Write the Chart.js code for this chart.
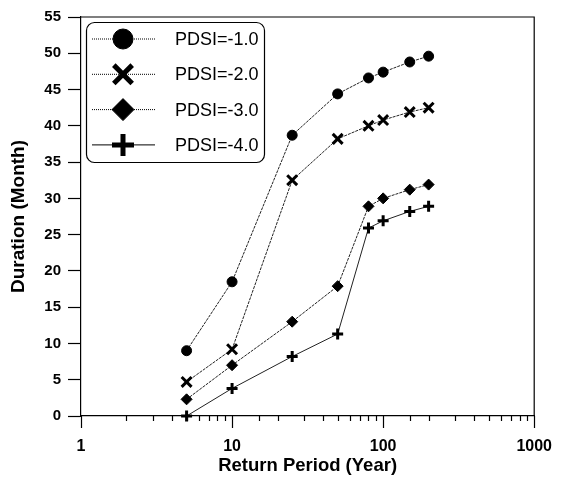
<!DOCTYPE html>
<html>
<head>
<meta charset="utf-8">
<title>Duration vs Return Period</title>
<script src="https://cdn.jsdelivr.net/npm/chart.js@4/dist/chart.umd.min.js"></script>
<style>
    html, body { margin: 0; padding: 0; background: #fff; }
    #wrap { width: 573px; height: 478px; position: relative; }
</style>
</head>
<body>
<div id="wrap"><canvas id="chart"></canvas></div>
<script>
// Data
const returnPeriods = [5, 10, 25, 50, 80, 100, 150, 200];
const pdsi1 = [9.0, 18.5, 38.7, 44.4, 46.6, 47.4, 48.8, 49.6];
const pdsi2 = [4.7, 9.2, 32.5, 38.2, 40.0, 40.8, 41.9, 42.5];
const pdsi3 = [2.3, 7.0, 13.0, 17.9, 28.9, 30.0, 31.2, 31.9];
const pdsi4 = [0.0, 3.8, 8.2, 11.3, 25.9, 26.9, 28.2, 28.9];
const seriesLabels = ['PDSI=-1.0', 'PDSI=-2.0', 'PDSI=-3.0', 'PDSI=-4.0'];
const yTicks = [0, 5, 10, 15, 20, 25, 30, 35, 40, 45, 50, 55];

const FONT = '"Liberation Sans", Arial, sans-serif';

function toPoints(values) {
    return returnPeriods.map((x, i) => ({ x: x, y: values[i] }));
}

// Marker look per series (plot size, legend size)
const markers = [
    { style: 'circle',   r: 5,   lr: 10, lw: 1, llw: 1, dash: [3, 1] },
    { style: 'crossRot', r: 7,   lr: 13, lw: 3, llw: 5, dash: [3, 1] },
    { style: 'rectRot',  r: 5.5, lr: 11, lw: 1, llw: 1, dash: [3, 1] },
    { style: 'cross',    r: 5.5, lr: 11, lw: 3, llw: 5, dash: [] }
];

const datasets = [pdsi1, pdsi2, pdsi3, pdsi4].map((vals, i) => ({
    label: seriesLabels[i],
    data: toPoints(vals),
    borderColor: '#222',
    borderWidth: 1,
    borderDash: markers[i].dash,
    backgroundColor: '#000',
    pointStyle: markers[i].style,
    pointRadius: markers[i].r,
    pointBorderWidth: markers[i].lw,
    pointBorderColor: '#000',
    pointBackgroundColor: '#000',
    tension: 0,
    clip: false
}));

// Frame and x tick marks
const framePlugin = {
    id: 'frame',
    afterDraw(chart) {
        const { ctx, chartArea: { left, right, top, bottom } } = chart;
        ctx.save();
        ctx.strokeStyle = '#000';
        ctx.lineWidth = 1.2;
        ctx.beginPath();
        ctx.moveTo(left, top);
        ctx.lineTo(right, top);
        ctx.lineTo(right, bottom);
        ctx.stroke();

        const xs = chart.scales.x;
        xs.ticks.forEach(t => {
            const px = Math.round(xs.getPixelForValue(t.value)) + 0.5;
            const lg = Math.log10(t.value);
            const major = Math.abs(lg - Math.round(lg)) < 1e-9;
            ctx.beginPath();
            ctx.moveTo(px, bottom);
            ctx.lineTo(px, bottom + (major ? 12 : 5));
            ctx.stroke();
        });
        ctx.restore();
    }
};

// Legend box with line + marker samples
const legendPlugin = {
    id: 'boxLegend',
    afterDraw(chart) {
        const ctx = chart.ctx;
        ctx.save();
        ctx.strokeStyle = '#000';
        ctx.lineWidth = 1.2;
        ctx.fillStyle = '#fff';
        ctx.beginPath();
        ctx.roundRect(86.5, 22.5, 178, 140, 8);
        ctx.fill();
        ctx.stroke();

        chart.data.datasets.forEach((ds, i) => {
            const y = 39 + i * 35.3;
            const m = markers[i];
            ctx.strokeStyle = '#000';
            ctx.lineWidth = 1;
            ctx.setLineDash(m.dash.length ? [1, 1] : []);
            ctx.beginPath();
            ctx.moveTo(92, y);
            ctx.lineTo(155, y);
            ctx.stroke();
            ctx.setLineDash([]);
            ctx.fillStyle = '#000';
            ctx.lineWidth = m.llw;
            Chart.helpers.drawPoint(ctx, {
                pointStyle: m.style,
                radius: m.lr,
                borderWidth: m.llw,
                rotation: 0
            }, 123, y);
            ctx.font = '18px ' + FONT;
            ctx.textBaseline = 'middle';
            ctx.textAlign = 'left';
            ctx.fillText(ds.label, 175, y + 1);
        });
        ctx.restore();
    }
};

const ctx = document.getElementById('chart').getContext('2d');
new Chart(ctx, {
    type: 'line',
    data: { datasets: datasets },
    options: {
        responsive: true,
        maintainAspectRatio: false,
        animation: false,
        layout: { padding: { top: 17, right: 21, left: 0, bottom: 0 } },
        plugins: {
            legend: { display: false },
            tooltip: { enabled: false }
        },
        scales: {
            x: {
                type: 'logarithmic',
                min: 1,
                max: 1000,
                afterFit(scale) { scale.height = 62; },
                grid: { display: false, drawTicks: false },
                border: { display: true, color: '#000', width: 1.2 },
                ticks: {
                    color: '#000',
                    font: { family: FONT, size: 16, weight: 'bold' },
                    padding: 21,
                    autoSkip: false,
                    maxRotation: 0,
                    callback: function(value) {
                        const lg = Math.log10(value);
                        return Math.abs(lg - Math.round(lg)) < 1e-9 ? String(value) : '';
                    }
                },
                title: {
                    display: true,
                    text: 'Return Period (Year)',
                    color: '#000',
                    font: { family: FONT, size: 18.5, weight: 'bold' },
                    padding: { top: 0, bottom: 1 }
                }
            },
            y: {
                min: 0,
                max: 55,
                afterFit(scale) { scale.width = 81; },
                afterBuildTicks(scale) { scale.ticks = yTicks.map(v => ({ value: v })); },
                grid: {
                    drawOnChartArea: false,
                    drawTicks: true,
                    tickLength: 13,
                    tickColor: '#000',
                    tickWidth: 1.2
                },
                border: { display: true, color: '#000', width: 1.2 },
                ticks: {
                    color: '#000',
                    font: { family: FONT, size: 15, weight: 'bold' },
                    padding: 7
                },
                title: {
                    display: true,
                    text: 'Duration (Month)',
                    color: '#000',
                    font: { family: FONT, size: 19, weight: 'bold' },
                    padding: { top: 7, bottom: 0 }
                }
            }
        }
    },
    plugins: [framePlugin, legendPlugin]
});
</script>
</body>
</html>
